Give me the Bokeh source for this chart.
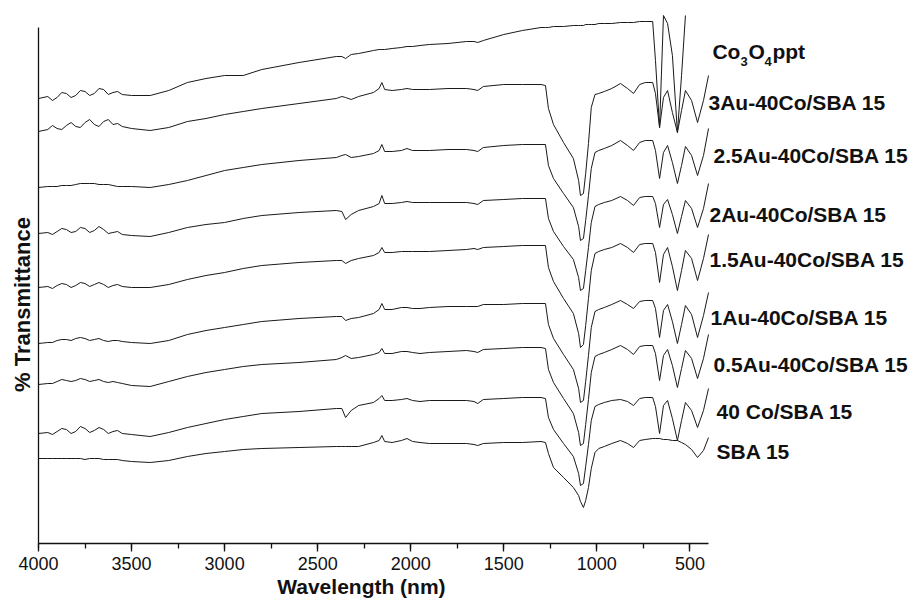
import math
from bokeh.plotting import figure
from bokeh.models import Range1d, Label, SingleIntervalTicker, FixedTicker
from bokeh.embed import file_html
from bokeh.resources import INLINE

NaN = float("nan")

# ---- data (wavenumber axis shared by all spectra; transmittance in offset arbitrary units) ----
wavenumber = [4000, 3950, 3925, 3900, 3875, 3850, 3825, 3800, 3775, 3750, 3725, 3700, 3675, 3650,
              3625, 3600, 3575, 3550, 3500, 3400, 3300, 3200,
              3100, 3000, 2900, 2800, 2600, 2400, 2370, 2350, 2320, 2280, 2200, 2170, 2155, 2140,
              2100, 2050, 2020, 1990, 1950, 1900, 1800, 1700, 1660, 1640, 1610, 1500, 1400, 1300,
              1276, 1260, 1233, 1179, 1126, 1098, 1088, 1072, 1060, 1045, 1030, 1010, 990, 960,
              920, 873, 835, 803, 770, 740, 700, 685, 663, 642, 620, 594, 567, 545, 524, 491,
              459, 427, 400]

co3o4_ppt = [445, 447, 443, 446, 451, 450, 446, 448, 453, 452, 448, 450, 455, 454, 449, 451, 452,
             449, 448, 448, 453, 461, 465, 468, 468,
             474, 481, 487, 487, 485, 489, 490, 493, 494, 494, 494, 495, 496, 497, 497, 498, 499,
             500, 502, 502, 501, 503, 509, 513, 516,
             516, 516, 517, 517, 518, 518, 518, 518, 519, 519, 519, 519, 520, 520, 520, 521, 521,
             521, 522, 522, 522, 483, 416, 528, 520, 488, 411, 468, 528, NaN, NaN, NaN, NaN]

au3_co40 = [412, 414, 418, 415, 414, 418, 421, 417, 416, 421, 424, 419, 417, 422, 424, 419, 420,
            417, 415, 413, 416, 422, 425, 429, 432,
            435, 440, 445, 447, 446, 444, 447, 451, 455, 461, 454, 453, 454, 455, 454, 454, 454,
            455, 455, 454, 453, 457, 459, 459, 459,
            458, 435, 419, 401, 385, 363, 348, 350, 370, 400, 436, 449, 450, 452, 455, 460, 455,
            450, 459, 461, 461, 450, 416, 446, 453, 431, 411, 433, 453, 443, 421, 443, 468]

au25_co40 = [356, 357, 357, 357, 358, 358, 358, 359, 360, 360, 360, 360, 359, 359, 359, 358, 357,
             357, 357, 356, 359, 363, 368, 373, 376,
             379, 383, 386, 388, 389, 386, 387, 390, 393, 399, 392, 392, 393, 395, 393, 393, 393,
             394, 394, 393, 392, 396, 398, 399, 399,
             399, 378, 365, 350, 336, 317, 303, 305, 323, 348, 375, 391, 393, 395, 398, 403, 398,
             393, 401, 403, 403, 393, 365, 391, 398, 381, 360, 378, 397, 388, 368, 388, 415]

au2_co40 = [310, 311, 309, 312, 315, 314, 311, 312, 316, 315, 311, 313, 317, 314, 310, 311, 312,
            309, 308, 307, 311, 316, 319, 321, 325,
            328, 331, 333, 332, 324, 329, 333, 337, 340, 348, 340, 340, 341, 342, 341, 341, 341,
            341, 341, 340, 339, 343, 344, 345, 345,
            345, 325, 312, 297, 284, 266, 253, 255, 273, 296, 321, 337, 339, 341, 343, 347, 343,
            338, 346, 347, 347, 340, 316, 339, 344, 329, 310, 327, 343, 335, 316, 335, 360]

au15_co40 = [256, 257, 255, 258, 260, 259, 256, 258, 261, 260, 257, 259, 261, 259, 256, 258, 259,
             257, 256, 256, 259, 264, 268, 271, 275,
             278, 281, 283, 283, 280, 283, 285, 288, 291, 296, 291, 291, 292, 292, 292, 292, 292,
             293, 294, 295, 294, 296, 297, 298, 298,
             298, 276, 262, 245, 230, 210, 196, 199, 218, 245, 273, 290, 292, 294, 296, 300, 296,
             291, 299, 300, 300, 291, 261, 289, 296, 277, 253, 273, 293, 285, 263, 285, 309]

au1_co40 = [200, 201, 201, 203, 204, 204, 203, 205, 206, 205, 203, 204, 205, 203, 202, 203, 203,
            202, 201, 200, 203, 209, 213, 216, 219,
            222, 225, 227, 227, 223, 225, 226, 230, 234, 240, 234, 234, 236, 236, 235, 235, 236,
            237, 237, 237, 237, 239, 239, 240, 240,
            240, 219, 205, 189, 174, 155, 141, 143, 162, 188, 216, 232, 234, 236, 239, 243, 239,
            235, 242, 243, 243, 235, 206, 233, 239, 222, 200, 219, 238, 229, 206, 228, 251]

au05_co40 = [159, 160, 160, 162, 164, 163, 162, 163, 165, 164, 162, 163, 164, 162, 161, 162, 161,
             160, 158, 157, 162, 167, 171, 174, 177,
             179, 181, 184, 186, 188, 185, 186, 189, 191, 195, 190, 190, 192, 192, 191, 190, 191,
             192, 193, 192, 191, 194, 195, 196, 196,
             195, 174, 161, 145, 130, 111, 98, 100, 119, 144, 171, 187, 189, 191, 194, 198, 194,
             189, 197, 198, 198, 190, 163, 188, 194, 178, 156, 175, 193, 185, 165, 185, 209]

co40 = [110, 111, 109, 112, 115, 114, 110, 112, 117, 115, 111, 113, 116, 114, 110, 112, 113,
        110, 109, 107, 111, 116, 120, 124, 127,
        130, 132, 135, 135, 126, 133, 138, 141, 145, 148, 143, 143, 144, 145, 143, 142, 143,
        143, 143, 142, 140, 144, 145, 146, 146,
        145, 126, 114, 100, 87, 70, 58, 60, 77, 99, 123, 137, 139, 141, 143, 144, 142,
        138, 145, 146, 146, 137, 110, 138, 143, 125, 103, 123, 141, 133, 116, 133, 155]

sba15 = [85, 85, 85, 85, 85, 85, 85, 85, 85, 84, 85, 85, 85, 84, 84, 84, 84, 83, 82, 81,
         83, 87, 90, 92, 94, 95, 96, 97, 97, 97,
         97, 97, 101, 103, 108, 102, 101, 103, 105, 102, 101, 100, 100, 100, 99, 98, 100, 101,
         101, 102,
         101, 90, 76, 66, 56, 48, 42, 36, 43, 56, 75, 91, 95, 97, 100, 103, 100, 96, 103, 104,
         105, 105, 105, 104, 104, 103, 103, 101, 99, 94, 86, 93, 106]

sample_names = ["Co3O4ppt", "3Au-40Co/SBA 15", "2.5Au-40Co/SBA 15", "2Au-40Co/SBA 15",
                "1.5Au-40Co/SBA 15", "1Au-40Co/SBA 15", "0.5Au-40Co/SBA 15", "40 Co/SBA 15",
                "SBA 15"]
spectra = [co3o4_ppt, au3_co40, au25_co40, au2_co40, au15_co40, au1_co40, au05_co40, co40, sba15]

x_tick_interval = 500
x_axis_span = (400, 4000)

# ---- figure: frame covers the whole canvas, axes drawn at fixed locations ----
W, H = 912, 603
p = figure(width=W, height=H, x_range=Range1d(4204.2, -696.0), y_range=Range1d(-60, 543),
           output_backend="svg", toolbar_location=None, title=None,
           min_border_left=0, min_border_right=0, min_border_top=0, min_border_bottom=0)
p.xgrid.visible = False
p.ygrid.visible = False
p.outline_line_color = None
p.background_fill_color = "white"
p.border_fill_color = "white"

for s in spectra:
    p.line(wavenumber, s, line_color="#1a1a1a", line_width=1)

xa = p.xaxis[0]
xa.fixed_location = 0
xa.bounds = x_axis_span
xa.ticker = SingleIntervalTicker(interval=x_tick_interval, num_minor_ticks=2)
xa.axis_label = None
xa.axis_line_color = "#111111"
xa.axis_line_width = 1.3
xa.major_tick_in = 0
xa.major_tick_out = 8
xa.minor_tick_in = 0
xa.minor_tick_out = 5
xa.major_tick_line_width = 1.3
xa.minor_tick_line_width = 1.3
xa.major_tick_line_color = "#111111"
xa.minor_tick_line_color = "#111111"
xa.major_label_text_font = "Liberation Sans"
xa.major_label_text_font_size = "18px"
xa.major_label_text_color = "#111111"
xa.major_label_standoff = 5

ya = p.yaxis[0]
ya.fixed_location = 4000
ya.ticker = FixedTicker(ticks=[])
ya.bounds = (0, 516)
ya.axis_label = None
ya.axis_line_color = "#111111"
ya.axis_line_width = 1.3
ya.major_tick_out = 0
ya.major_tick_in = 0
ya.minor_tick_out = 0
ya.minor_tick_in = 0
ya.major_label_text_font_size = "0px"

FONT = "Liberation Sans"


def add_label(x, y, text, size="21px", x_offset=0, angle=0, align="left"):
    p.add_layout(Label(x=x, y=y, text=text, x_offset=x_offset, angle=angle,
                       text_font=FONT, text_font_style="bold", text_font_size=size,
                       text_color="#111111", text_baseline="middle", text_align=align))


# sample labels (layout positions only)
label_pos = [(379, 492), (400, 441), (373, 388), (395, 329), (395, 284), (389, 226),
             (373, 179), (357, 132), (357, 92)]

# Co3O4ppt with subscripts built from parts
cx, cy = label_pos[0]
add_label(cx, cy, "Co", x_offset=0)
add_label(cx, cy - 10, "3", size="13px", x_offset=28)
add_label(cx, cy, "O", x_offset=36)
add_label(cx, cy - 10, "4", size="13px", x_offset=52)
add_label(cx, cy, "ppt", x_offset=60)

for (lx, ly), name in zip(label_pos[1:], sample_names[1:]):
    add_label(lx, ly, name)

# axis titles
add_label(4086, 239, "% Transmittance", size="22px", angle=math.pi / 2, align="center")
add_label(2265, -43, "Wavelength (nm)", size="21px", align="center")

open("out.html", "w").write(file_html(p, INLINE))
